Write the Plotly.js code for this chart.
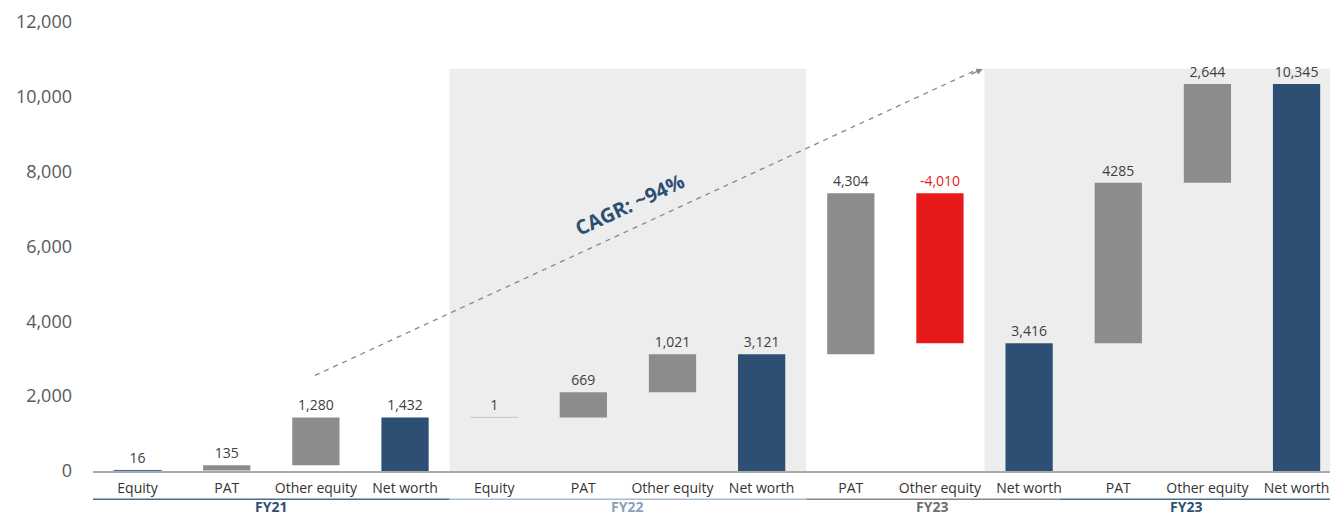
<!DOCTYPE html>
<html>
<head>
<meta charset="utf-8">
<script src="https://cdn.plot.ly/plotly-3.0.1.min.js"></script>
<style>html,body{margin:0;padding:0;background:#fff;}#chart{width:1330px;height:515px;}</style>
</head>
<body>
<div id="chart"></div>
<script>
// ---- data ----
const categories = ['Equity','PAT','Other equity','Net worth','Equity','PAT','Other equity','Net worth','PAT','Other equity','Net worth','PAT','Other equity','Net worth'];
const values = [16,135,1280,1432,1,669,1021,3121,4304,-4010,3416,4285,2644,10345];
const measures = ['relative','relative','relative','total','relative','relative','relative','total','relative','relative','total','relative','relative','total'];
const valueLabels = ['16','135','1,280','1,432','1','669','1,021','3,121','4,304','-4,010','3,416','4285','2,644','10,345'];
const groups = ['FY21','FY22','FY23','FY23'];
const yTicks = [0,2000,4000,6000,8000,10000,12000];
const yTickLabels = ['0','2,000','4,000','6,000','8,000','10,000','12,000'];
const cagrLabel = 'CAGR: ~94%';

// ---- styles ----
const NAVY = '#2d4f73', GREY = '#8c8c8c', RED = '#e8191a';

// build waterfall bars
let running = 0;
const xs = [], bases = [], heights = [], colors = [], lineW = [], lineC = [], textColors = [];
values.forEach((v, i) => {
  xs.push(i);
  if (measures[i] === 'total') {
    bases.push(0); heights.push(v); running = v; colors.push(NAVY);
  } else if (v >= 0) {
    bases.push(running); heights.push(v); running += v; colors.push(GREY);
  } else {
    bases.push(running + v); heights.push(-v); running += v; colors.push(RED);
  }
  textColors.push(v < 0 ? RED : '#404040');
  const tiny = Math.abs(v) < 50;
  lineW.push(tiny ? 1 : 0);
  lineC.push(tiny ? (i === 0 ? '#4a6a8a' : '#c8c8c8') : colors[i]);
});

const bar = {
  type: 'bar',
  x: xs, y: heights, base: bases,
  width: 0.53,
  marker: {color: colors.map((c, i) => lineW[i] ? 'rgba(0,0,0,0)' : c), line: {color: lineC, width: lineW}},
  text: valueLabels,
  textposition: 'outside',
  textfont: {family: 'Open Sans, sans-serif', size: 14, color: textColors},
  cliponaxis: false,
  hoverinfo: 'skip'
};

const groupSpans = [[-0.5, 3.5], [3.5, 7.5], [7.5, 10.34], [10.34, 14]];
const groupColors = ['#4d6d8e', '#a9bccf', '#888888', '#4d6d8e'];
const groupTextColors = [NAVY, '#8aa0b8', '#6e6e6e', NAVY];
const groupLabelX = [1.5, 5.49, 8.91, 11.76];

const shapes = [
  {type: 'rect', layer: 'below', xref: 'x', yref: 'y', x0: 3.5, x1: 7.5, y0: 0, y1: 10750, fillcolor: '#ededed', line: {width: 0}},
  {type: 'rect', layer: 'below', xref: 'x', yref: 'y', x0: 9.5, x1: 14, y0: 0, y1: 10750, fillcolor: '#ededed', line: {width: 0}},
  {type: 'line', xref: 'x', yref: 'y', x0: 1.99, y0: 2554, x1: 9.4, y1: 10710, line: {color: '#888', width: 1.3, dash: '5px,5px'}}
];
groupSpans.forEach((s, i) => {
  shapes.push({type: 'line', xref: 'x', yref: 'paper', x0: s[0], x1: s[1], y0: -0.063, y1: -0.063, line: {color: groupColors[i], width: 1.5}});
});

const annotations = [
  {xref: 'x', yref: 'y', x: 9.48, y: 10747, ax: -13, ay: 6, text: '', showarrow: true, arrowhead: 2, arrowsize: 1, arrowwidth: 1.3, arrowcolor: '#888'},
  {xref: 'x', yref: 'y', x: 5.52, y: 7118, text: cagrLabel, showarrow: false, textangle: -25,
   font: {family: 'Open Sans, sans-serif', size: 20, color: NAVY, weight: 700}}
];
groups.forEach((g, i) => {
  annotations.push({xref: 'x', yref: 'paper', x: groupLabelX[i], y: -0.079, yanchor: 'middle', text: '<b>' + g + '</b>', showarrow: false,
    font: {family: 'Open Sans, sans-serif', size: 14, color: groupTextColors[i]}});
});

const layout = {
  width: 1330, height: 515,
  margin: {l: 93, r: 0, t: 22, b: 44},
  paper_bgcolor: '#fff', plot_bgcolor: 'rgba(0,0,0,0)',
  showlegend: false,
  bargap: 0,
  xaxis: {
    range: [-0.5, 13.375], tickmode: 'array', tickvals: xs, ticktext: categories,
    showgrid: false, zeroline: false, showline: true, linecolor: '#aaaaaa', linewidth: 1.5,
    ticks: '', tickfont: {family: 'Open Sans, sans-serif', size: 14, color: '#333'}, ticklabelstandoff: 4,
    fixedrange: true
  },
  yaxis: {
    range: [0, 12000], tickmode: 'array', tickvals: yTicks, ticktext: yTickLabels,
    showgrid: false, zeroline: false, showline: false, ticks: '',
    tickfont: {family: 'Open Sans, sans-serif', size: 18, color: '#595959'}, ticklabelstandoff: 20,
    fixedrange: true
  },
  shapes: shapes,
  annotations: annotations
};

Plotly.newPlot('chart', [bar], layout, {displayModeBar: false, staticPlot: true});
</script>
</body>
</html>
